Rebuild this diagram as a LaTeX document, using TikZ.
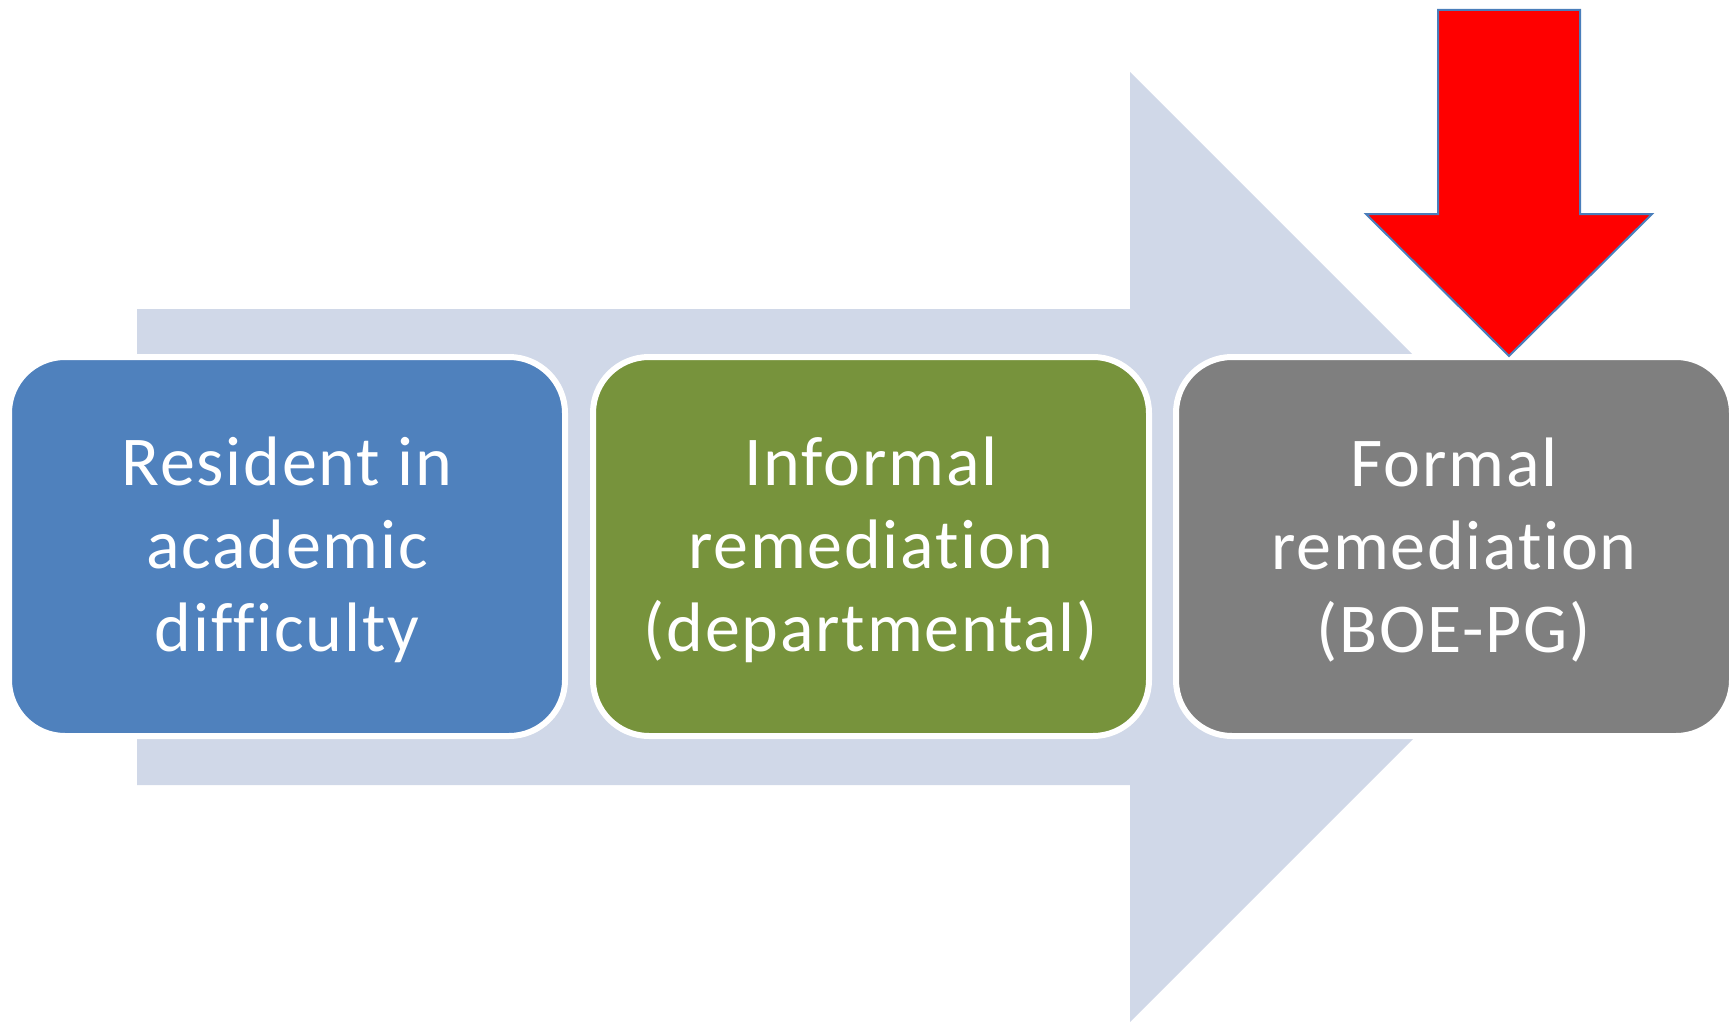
\documentclass[tikz,border=0pt]{standalone}
\usepackage{fontspec}
\setmainfont[RawFeature=-liga, LetterSpace=2.5]{Carlito}
\definecolor{bandcol}{HTML}{D0D8E8}
\definecolor{boxblue}{HTML}{4F81BD}
\definecolor{boxgreen}{HTML}{77933C}
\definecolor{boxgray}{HTML}{7F7F7F}
\definecolor{arrowedge}{HTML}{4A7EBB}
\begin{document}
\begin{tikzpicture}[x=1pt,y=-1pt,
  stepbox/.style={rectangle, rounded corners=56pt, minimum width=556pt, minimum height=379pt,
    draw=white, line width=6pt, inner sep=0pt, outer sep=0pt},
  steptext/.style={text=white, align=center, inner sep=0pt, yshift=-3.5pt,
    font=\fontsize{70}{83}\selectfont},
  band/.style={fill=bandcol},
  redarrow/.style={draw=arrowedge, fill=red, line width=2pt, line join=miter}]
\useasboundingbox (0,0) rectangle (1730,1022);
% background chevron arrow
\fill[band] (137,309) -- (1130,309) -- (1130,72) -- (1605,547) -- (1130,1022) -- (1130,785) -- (137,785) -- cycle;
% step boxes
\node[stepbox, fill=boxblue] (b1) at (287,546.5) {};
\node[stepbox, fill=boxgreen] (b2) at (871,546.5) {};
\node[stepbox, fill=boxgray] (b3) at (1454,546.5) {};
\node[steptext] (t1) at (b1.center) {Resident in\\academic\\difficulty};
\node[steptext] (t2) at (b2.center) {Informal\\remediation\\(departmental)};
\node[steptext] (t3) at (b3.center) {Formal\\remediation\\(BOE-PG)};
% red down arrow
\draw[redarrow] (1438,10) -- (1580,10) -- (1580,214) -- (1652,214) -- (1509,356) -- (1366,214) -- (1438,214) -- cycle;
\end{tikzpicture}
\end{document}
